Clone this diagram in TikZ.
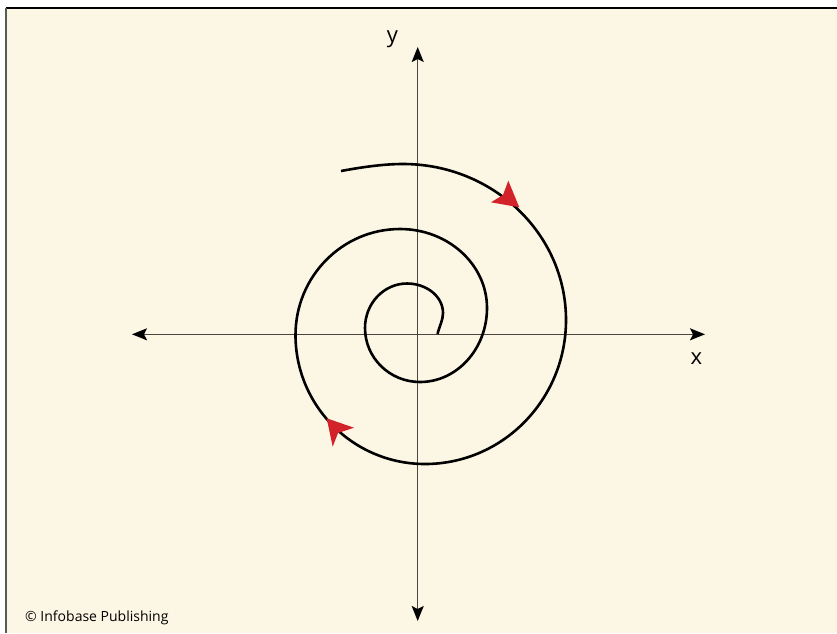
\documentclass[tikz,border=0pt]{standalone}
\usepackage{fontspec}
\setmainfont{Open Sans}
\usetikzlibrary{arrows.meta}
\definecolor{cream}{HTML}{FCF6E4}
\definecolor{axisgray}{HTML}{4A4540}
\definecolor{arrowred}{HTML}{D2232A}
\tikzset{
  axisline/.style={draw=axisgray, line width=1.4pt, {Stealth[length=15pt,width=12pt,inset=3pt,color=black]}-{Stealth[length=15pt,width=12pt,inset=3pt,color=black]}},
  spiralline/.style={draw=black, line width=2.6pt, line join=round},
  redtip/.style={fill=arrowred, draw=none},
  axislabel/.style={font=\fontsize{22}{24}\selectfont, inner sep=0pt},
  credit/.style={font=\fontsize{14}{16}\selectfont, inner sep=0pt, anchor=base west}
}
\begin{document}
\begin{tikzpicture}[x=1pt,y=-1pt]
\useasboundingbox (0,0) rectangle (837,633);
\fill[white] (0,0) rectangle (837,633);
\fill[cream] (6,8) rectangle (837,633);
\draw[black, line width=1.2pt] (5.5,8) -- (837,8);
\draw[gray!70!black, line width=1.6pt] (6,8) -- (6,633);
% axes
\coordinate (xl) at (132,334.3);
\coordinate (xr) at (705,334.3);
\coordinate (yt) at (417.7,47);
\coordinate (yb) at (417.7,621);
\draw[axisline] (xl) -- (xr);
\draw[axisline] (yb) -- (yt);
\node[axislabel] (xlab) at (696.5,359) {x};
\node[axislabel] (ylab) at (392.5,39) {y};
% spiral
\coordinate (s)  at (437.5,334);
\coordinate (r1) at (443,313);
\coordinate (t1) at (407,283.5);
\coordinate (l1) at (365,328);
\coordinate (b1) at (420,382);
\coordinate (r2) at (487,308);
\coordinate (t2) at (400,229);
\coordinate (l2) at (295.5,335);
\coordinate (b2) at (425,464);
\coordinate (r3) at (566,320);
\coordinate (t3) at (403,164);
\coordinate (e)  at (341,171);
\draw[spiralline]
 (s) .. controls (439.5,326) and (443,320) .. (r1)
     .. controls (443,296.7) and (426.9,283.5) .. (t1)
     .. controls (383.8,283.5) and (365,303.4) .. (l1)
     .. controls (365,357.8) and (389.6,382) .. (b1)
     .. controls (457,382) and (487,348.8) .. (r2)
     .. controls (487,264.4) and (448,229) .. (t2)
     .. controls (342.3,229) and (295.5,276.5) .. (l2)
     .. controls (295.5,406.2) and (353.5,464) .. (b2)
     .. controls (502.8,464) and (566,399.5) .. (r3)
     .. controls (566,233.9) and (493,164) .. (t3)
     .. controls (382,164) and (360,167.5) .. (e);
% red arrowheads
\fill[redtip] (519.3,207.3) -- (508.3,180.7) -- (503,195) -- (491,202.3) -- cycle;
\fill[redtip] (326.7,418.3) -- (354,427.7) -- (338,433) -- (332.7,446.7) -- cycle;
\node[credit] (cr) at (25,621) {© Infobase Publishing};
\end{tikzpicture}
\end{document}
